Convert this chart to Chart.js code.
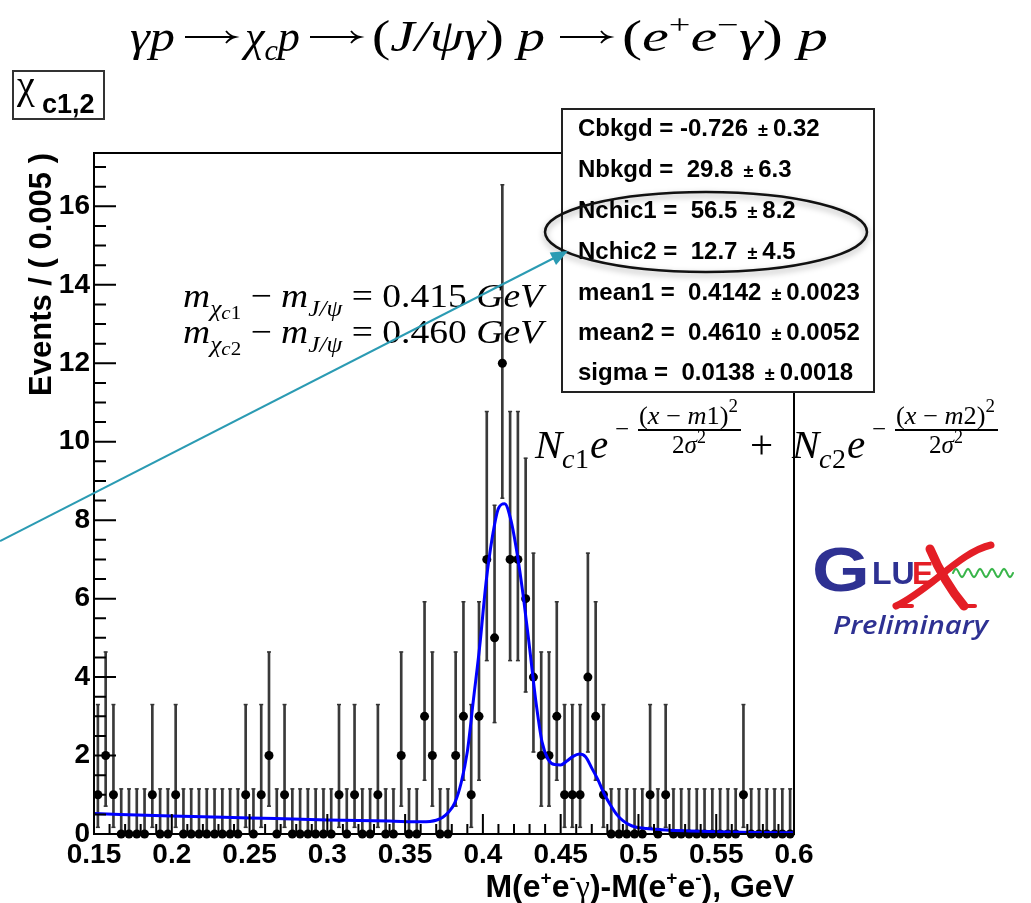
<!DOCTYPE html>
<html><head><meta charset="utf-8">
<script src="https://cdn.jsdelivr.net/npm/chart.js@4.4.1/dist/chart.umd.min.js"></script>
<style>html,body{margin:0;padding:0;background:#fff;overflow:hidden}canvas{display:block}</style>
</head><body>
<canvas id="c" width="1031" height="903"></canvas>
<script>
// ---- data ----
const binCenters = [
0.1525,0.1575,0.1625,0.1675,0.1725,0.1775,0.1825,0.1875,0.1925,0.1975,
0.2025,0.2075,0.2125,0.2175,0.2225,0.2275,0.2325,0.2375,0.2425,0.2475,
0.2525,0.2575,0.2625,0.2675,0.2725,0.2775,0.2825,0.2875,0.2925,0.2975,
0.3025,0.3075,0.3125,0.3175,0.3225,0.3275,0.3325,0.3375,0.3425,0.3475,
0.3525,0.3575,0.3625,0.3675,0.3725,0.3775,0.3825,0.3875,0.3925,0.3975,
0.4025,0.4075,0.4125,0.4175,0.4225,0.4275,0.4325,0.4375,0.4425,0.4475,
0.4525,0.4575,0.4625,0.4675,0.4725,0.4775,0.4825,0.4875,0.4925,0.4975,
0.5025,0.5075,0.5125,0.5175,0.5225,0.5275,0.5325,0.5375,0.5425,0.5475,
0.5525,0.5575,0.5625,0.5675,0.5725,0.5775,0.5825,0.5875,0.5925,0.5975];
const counts = [
1,2,1,0,0,0,0,1,0,0,
1,0,0,0,0,0,0,0,0,1,
0,1,2,0,1,0,0,0,0,0,
0,1,0,1,0,0,1,0,0,2,
0,0,3,2,0,0,2,3,1,3,
7,5,12,7,7,6,4,2,2,3,
1,1,1,4,3,1,0,0,0,0,
0,1,0,1,0,0,0,0,0,0,
0,0,0,1,0,0,0,0,0,0];
// Poisson error bar lengths, indexed by count
const errLoTable = [0,0.83,1.29,1.63,1.91,2.16,2.38,2.58,2.77,2.94,3.11,3.27,3.44];
const errHiTable = [1.15,2.30,2.64,2.92,3.16,3.38,3.58,3.77,3.94,4.11,4.26,4.41,4.55];
// fitted curve
const fitX = [0.150,0.200,0.250,0.300,0.340,0.360,0.366,0.370,0.374,0.378,0.382,0.386,0.390,0.394,0.398,0.402,0.406,0.410,0.414,0.418,0.422,0.426,0.430,0.434,0.438,0.442,0.446,0.450,0.454,0.458,0.462,0.466,0.470,0.474,0.478,0.482,0.486,0.490,0.494,0.498,0.505,0.515,0.530,0.550,0.575,0.600];
const fitY = [0.52,0.46,0.41,0.36,0.33,0.31,0.32,0.35,0.42,0.56,0.80,1.30,2.10,3.45,4.80,6.40,7.55,8.30,8.42,8.00,7.15,6.05,4.75,3.40,2.35,1.90,1.77,1.76,1.86,1.98,2.04,1.97,1.68,1.38,1.02,0.74,0.50,0.34,0.24,0.18,0.14,0.11,0.08,0.06,0.04,0.03];
const xTickValues = [0.15,0.2,0.25,0.3,0.35,0.4,0.45,0.5,0.55,0.6];
const xTickLabels = ['0.15','0.2','0.25','0.3','0.35','0.4','0.45','0.5','0.55','0.6'];
const yTickValues = [0,2,4,6,8,10,12,14,16];
const yTickLabels = ['0','2','4','6','8','10','12','14','16'];
const statNames = ['Cbkgd = -0.726','Nbkgd =  29.8','Nchic1 =  56.5','Nchic2 =  12.7','mean1 =  0.4142','mean2 =  0.4610','sigma =  0.0138'];
const statErrs = ['0.32','6.3','8.2','4.5','0.0023','0.0052','0.0018'];

// ---- build datasets ----
const pts = binCenters.map((x,i)=>({x, y:counts[i]}));
const bars = binCenters.map((x,i)=>({x, y:[counts[i]-errLoTable[counts[i]], counts[i]+errHiTable[counts[i]]]}));
const capsHi = binCenters.map((x,i)=>({x, y:counts[i]+errHiTable[counts[i]]}));
const capsLo = binCenters.map((x,i)=>({x, y:counts[i]-errLoTable[counts[i]]})).filter(p=>p.y>0.01);
const fit = fitX.map((x,i)=>({x, y:fitY[i]}));

const SANS = '"Liberation Sans", Arial, sans-serif';
const SERIF = '"Liberation Serif", "Times New Roman", serif';
const FI = s => `italic ${s}px ${SERIF}`;
const FR = s => `${s}px ${SERIF}`;
const FB = s => `bold ${s}px ${SANS}`;

function measure(ctx, parts){
  let w = 0;
  parts.forEach(p=>{ctx.font=p.f; p.w=ctx.measureText(p.t).width+(p.dx||0); w+=p.w;});
  return w;
}
function rich(ctx, x, y, parts, align){
  const w = measure(ctx, parts);
  let cx = align==='right' ? x-w : align==='center' ? x-w/2 : x;
  parts.forEach(p=>{ctx.font=p.f; ctx.fillStyle=p.c||'#000'; ctx.fillText(p.t, cx, y+(p.dy||0)); cx+=p.w;});
  return w;
}
// draw parts starting at x so that they span exactly targetW
function richFit(ctx, x, y, parts, targetW){
  const w = measure(ctx, parts);
  ctx.save(); ctx.translate(x, y); ctx.scale(targetW/w, 1);
  rich(ctx, 0, 0, parts, 'left');
  ctx.restore();
}

const decor = {
  id:'decor',
  afterDatasetsDraw(chart){
    const {ctx, chartArea:a, scales:{x, y}} = chart;
    ctx.save();
    ctx.strokeStyle = '#000'; ctx.lineWidth = 2;
    ctx.strokeRect(a.left, a.top, a.right-a.left, a.bottom-a.top);
    ctx.beginPath();
    for (let k=15;k<=60;k++){
      const v = k/100, px = x.getPixelForValue(v);
      const len = (k%5===0) ? 20 : 10;
      ctx.moveTo(px, a.bottom); ctx.lineTo(px, a.bottom-len);
    }
    for (let k=0;k<=34;k++){
      const v = k*0.5, py = y.getPixelForValue(v);
      if (py < a.top) continue;
      const len = (k%4===0) ? 22 : 12;
      ctx.moveTo(a.left, py); ctx.lineTo(a.left+len, py);
    }
    ctx.stroke();
    ctx.restore();
  },
  afterDraw(chart){
    const {ctx} = chart;
    ctx.save();
    ctx.textBaseline = 'alphabetic';
    // title, in four anchored groups joined by arrows
    const TY = 51;
    richFit(ctx, 130, TY, [{t:'γp',f:FI(44)}], 45);
    richFit(ctx, 245, TY, [{t:'χ',f:FI(44)},{t:'c',f:FI(30),dy:9},{t:'p',f:FI(44)}], 55);
    richFit(ctx, 372, TY, [{t:'(',f:FR(44)},{t:'J/ψγ',f:FI(44)},{t:') ',f:FR(44)},{t:'p',f:FI(44)}], 173);
    richFit(ctx, 622, TY, [{t:'(',f:FR(44)},{t:'e',f:FI(44)},{t:'+',f:FR(28),dy:-17},{t:'e',f:FI(44)},{t:'−',f:FR(28),dy:-17},
      {t:'γ',f:FI(44)},{t:') ',f:FR(44)},{t:'p',f:FI(44)}], 206);
    [[185,235],[310,360],[560,610]].forEach(([a0,a1])=>{
      ctx.strokeStyle='#000'; ctx.fillStyle='#000'; ctx.lineWidth=1.8;
      ctx.beginPath(); ctx.moveTo(a0, 37); ctx.lineTo(a1-3, 37); ctx.stroke();
      ctx.beginPath(); ctx.moveTo(a1-9, 31); ctx.quadraticCurveTo(a1-5, 36, a1, 37); ctx.quadraticCurveTo(a1-5, 38, a1-9, 43); ctx.stroke();
    });
    // chi box
    ctx.fillStyle='#fff'; ctx.fillRect(13,71,91,48);
    ctx.strokeStyle='#333'; ctx.lineWidth=2; ctx.strokeRect(13,71,91,48);
    ctx.fillStyle='#000';
    ctx.font = FR(40); ctx.fillText('χ', 17, 98);
    ctx.font = FB(27); ctx.fillText('c1,2', 42, 113);
    // y title
    ctx.save();
    ctx.translate(51, 153); ctx.rotate(-Math.PI/2);
    ctx.font = FB(31); ctx.textAlign='right'; ctx.fillStyle='#000';
    ctx.fillText('Events / ( 0.005 )', 0, 0);
    ctx.restore();
    // x title
    rich(ctx, 794, 897, [
      {t:'M(e',f:FB(32)},{t:'+',f:FB(19),dy:-13},{t:'e',f:FB(32)},{t:'-',f:FB(19),dy:-13},
      {t:'γ',f:FR(32)},{t:')-M(e',f:FB(32)},{t:'+',f:FB(19),dy:-13},{t:'e',f:FB(32)},{t:'-',f:FB(19),dy:-13},
      {t:'), GeV',f:FB(32)}
    ], 'right');
    // mass difference annotations
    const ann = (yb, n, val) => richFit(ctx, 183, yb, [
      {t:'m',f:FI(34)},{t:'χ',f:FI(23),dy:9},{t:'c',f:FI(19),dy:12},{t:n,f:FR(19),dy:12},
      {t:' − ',f:FR(34)},{t:'m',f:FI(34)},{t:'J/ψ',f:FI(23),dy:9},
      {t:' = ',f:FR(34)},{t:val+' ',f:FR(34)},{t:'GeV',f:FI(34)}
    ], 360);
    ann(307, '1', '0.415');
    ann(343, '2', '0.460');
    // stats box
    ctx.fillStyle='#fff'; ctx.fillRect(562,109,312,283);
    ctx.strokeStyle='#222'; ctx.lineWidth=2; ctx.strokeRect(562,109,312,283);
    const base = [136,177,218,259,300,340,380];
    statNames.forEach((s,i)=>{
      ctx.fillStyle='#000';
      ctx.font = FB(24); ctx.fillText(s, 578, base[i]);
      let xx = 578 + ctx.measureText(s).width + 10;
      ctx.font = FB(18); ctx.fillText('±', xx, base[i]);
      xx += ctx.measureText('±').width + 5;
      ctx.font = FB(24); ctx.fillText(statErrs[i], xx, base[i]);
    });
    // ellipse
    ctx.save();
    ctx.shadowColor='rgba(0,0,0,0.35)'; ctx.shadowBlur=6; ctx.shadowOffsetY=3;
    ctx.strokeStyle='#111'; ctx.lineWidth=2.5;
    ctx.beginPath(); ctx.ellipse(706,232,161,40,0,0,Math.PI*2); ctx.stroke();
    ctx.restore();
    // formula
    const term = (x0, sub) => {
      ctx.fillStyle='#000';
      ctx.font=FI(41); ctx.fillText('N', x0, 458);
      ctx.font=FI(28); ctx.fillText('c', x0+27, 468);
      ctx.font=FR(28); ctx.fillText(sub, x0+40, 468);
      ctx.font=FI(41); ctx.fillText('e', x0+55, 458);
      ctx.font=FR(25); ctx.fillText('−', x0+80, 437);
      richFit(ctx, x0+104, 424, [
        {t:'(',f:FR(25)},{t:'x',f:FI(25)},{t:' − ',f:FR(25)},{t:'m',f:FI(25)},{t:sub,f:FR(25)},{t:')',f:FR(25)},{t:'2',f:FR(18),dy:-12}
      ], 99);
      ctx.fillRect(x0+103, 429, 103, 2);
      rich(ctx, x0+154, 453, [{t:'2',f:FR(25)},{t:'σ',f:FI(25)},{t:'2',f:FR(18),dy:-10}], 'center');
    };
    term(535, '1');
    ctx.font=FR(41); ctx.fillStyle='#000'; ctx.fillText('+', 750, 458);
    term(792, '2');
    // GlueX logo
    const blue='#2e3192', red='#e41e26', green='#39b54a';
    ctx.save(); ctx.translate(812, 591); ctx.scale(1.18, 1);
    ctx.font = `bold 63px ${SANS}`; ctx.fillStyle=blue; ctx.fillText('G', 0, 0);
    ctx.restore();
    ctx.font = `bold 32px ${SANS}`; ctx.fillStyle=blue; ctx.fillText('LU', 872, 584);
    ctx.fillStyle=red; ctx.fillText('E', 912, 584);
    ctx.strokeStyle=red; ctx.lineCap='round';
    ctx.lineWidth=9; ctx.beginPath(); ctx.moveTo(930,549); ctx.quadraticCurveTo(944,582,964,606); ctx.stroke();
    ctx.lineWidth=7; ctx.beginPath(); ctx.moveTo(991,545); ctx.bezierCurveTo(960,552,930,590,896,606); ctx.stroke();
    ctx.lineWidth=4; ctx.beginPath(); ctx.moveTo(896,606); ctx.lineTo(912,606); ctx.stroke();
    ctx.beginPath(); ctx.moveTo(964,606); ctx.lineTo(975,606); ctx.stroke();
    ctx.strokeStyle=green; ctx.lineWidth=2; ctx.beginPath();
    for (let i=0;i<=60;i++){ const xx=953+i, yy=573-4*Math.sin(i/60*Math.PI*10); i?ctx.lineTo(xx,yy):ctx.moveTo(xx,yy);} ctx.stroke();
    ctx.font = `italic 600 26px "Open Sans", ${SANS}`;
    let pw = ctx.measureText('Preliminary').width;
    ctx.save(); ctx.translate(833, 634); ctx.scale(155/pw, 1);
    ctx.fillStyle=blue; ctx.fillText('Preliminary', 0, 0); ctx.restore();
    // teal arrow
    const teal='#2b9bb3';
    ctx.strokeStyle=teal; ctx.fillStyle=teal; ctx.lineWidth=2; ctx.lineCap='butt';
    ctx.beginPath(); ctx.moveTo(0,541); ctx.lineTo(556,257); ctx.stroke();
    const tx=568, ty=251, dx=0.8906, dy=-0.4547, L=17, W=7;
    const bx=tx-L*dx, by=ty-L*dy;
    ctx.beginPath(); ctx.moveTo(tx,ty); ctx.lineTo(bx+W*0.4547, by+W*0.8906); ctx.lineTo(bx-W*0.4547, by-W*0.8906); ctx.closePath(); ctx.fill();
    ctx.restore();
  }
};

new Chart(document.getElementById('c'), {
  type:'scatter',
  data:{datasets:[
    {type:'line', data:fit, borderColor:'#0000ff', borderWidth:3, pointRadius:0, cubicInterpolationMode:'monotone', fill:false, order:0},
    {type:'scatter', data:pts, pointRadius:4.5, pointBackgroundColor:'#000', pointBorderColor:'#000', pointBorderWidth:0, order:1, clip:false},
    {type:'scatter', data:capsHi, pointStyle:'line', pointRadius:2, pointBorderColor:'#333', pointBorderWidth:1.5, order:2, clip:false},
    {type:'scatter', data:capsLo, pointStyle:'line', pointRadius:2, pointBorderColor:'#333', pointBorderWidth:1.5, order:2, clip:false},
    {type:'bar', data:bars, backgroundColor:'#3a3a3a', barThickness:2, grouped:false, borderWidth:0, order:3}
  ]},
  options:{
    responsive:false, animation:false, devicePixelRatio:1,
    layout:{padding:{top:153, right:237, bottom:0, left:0}},
    plugins:{legend:{display:false}, tooltip:{enabled:false}},
    scales:{
      x:{type:'linear', min:0.15, max:0.6, offset:false,
         grid:{display:false, drawTicks:false}, border:{display:false},
         afterFit:s=>{s.height=69;},
         afterBuildTicks:s=>{s.ticks=xTickValues.map(v=>({value:v}));},
         ticks:{callback:(v,i)=>xTickLabels[i], font:{family:'"Liberation Sans"', weight:'bold', size:28}, color:'#000', padding:4, maxRotation:0, minRotation:0, autoSkip:false}},
      y:{type:'linear', min:0, max:17.36,
         grid:{display:false, drawTicks:false}, border:{display:false},
         afterFit:s=>{s.width=94;},
         afterBuildTicks:s=>{s.ticks=yTickValues.map(v=>({value:v}));},
         ticks:{callback:(v,i)=>yTickLabels[i], font:{family:'"Liberation Sans"', weight:'bold', size:28}, color:'#000', padding:4, autoSkip:false}}
    }
  },
  plugins:[decor]
});
</script>
</body></html>
